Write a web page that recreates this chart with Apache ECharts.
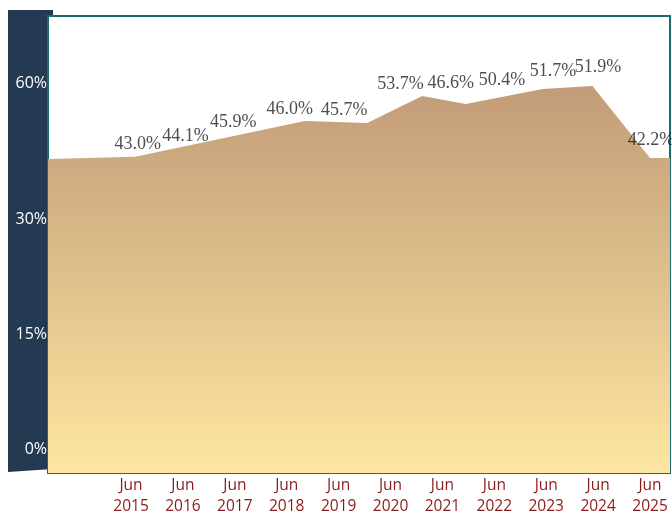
<!DOCTYPE html>
<html>
<head>
<meta charset="utf-8">
<script src="https://cdn.jsdelivr.net/npm/echarts@6/dist/echarts.min.js"></script>
<style>
  html, body { margin: 0; padding: 0; background: #ffffff; }
  #chart { width: 672px; height: 512px; }
</style>
</head>
<body>
<div id="chart"></div>
<script>
// x in decimal years (Jun = .5), y in axis units
const years = [2015, 2016, 2017, 2018, 2019, 2020, 2021, 2022, 2023, 2024, 2025];
const yTickValues = [0, 15, 30, 47.6];
const yTickLabels = ['0%', '15%', '30%', '60%'];

// outline of the filled area
const areaX = [2013.9, 2015.58, 2018.85, 2020.05, 2021.11, 2021.95, 2023.43, 2024.39, 2025.5, 2025.885];
const areaY = [37.8, 38.1, 42.75, 42.5, 46.0, 44.95, 46.9, 47.3, 37.95, 37.95];

// value labels as printed, and where they sit
const labelText = ['43.0%', '44.1%', '45.9%', '46.0%', '45.7%', '53.7%', '46.6%', '50.4%', '51.7%', '51.9%', '42.2%'];
const labelX = [2015.63, 2016.55, 2017.47, 2018.56, 2019.61, 2020.69, 2021.66, 2022.65, 2023.63, 2024.5, 2025.52];
const labelY = [39.7, 40.8, 42.55, 44.3, 44.1, 47.5, 47.7, 48.0, 49.25, 49.7, 40.2];

const chart = echarts.init(document.getElementById('chart'), null, { renderer: 'canvas' });

const option = {
  backgroundColor: '#ffffff',
  animation: false,
  graphic: [{
    type: 'polygon',
    z: -10,
    shape: { points: [[8, 10], [53, 10], [53, 469], [8, 472]] },
    style: { fill: '#243a52' }
  }],
  grid: {
    left: 48, right: 2, top: 16, bottom: 39,
    outerBoundsMode: 'none',
    containLabel: false,
    show: true,
    backgroundColor: '#ffffff',
    borderColor: '#1c6c6e',
    borderWidth: 2
  },
  xAxis: {
    type: 'value',
    min: 2013.9,
    max: 2025.885,
    axisLine: { show: false },
    axisTick: { show: false },
    splitLine: { show: false },
    axisLabel: {
      customValues: years.map(y => y + 0.5),
      formatter: v => 'Jun\n' + Math.floor(v),
      color: '#8b1a1a',
      fontFamily: 'Open Sans',
      fontSize: 15.5,
      lineHeight: 21,
      margin: 2
    }
  },
  yAxis: {
    type: 'value',
    min: -3,
    max: 56.4,
    axisLine: { show: false },
    axisTick: { show: false },
    splitLine: { show: false },
    axisLabel: {
      customValues: yTickValues,
      formatter: (v) => yTickLabels[yTickValues.indexOf(v)],
      color: '#ffffff',
      fontFamily: 'Open Sans',
      fontSize: 16,
      margin: 1
    }
  },
  series: [{
    type: 'line',
    data: areaX.map((x, i) => [x, areaY[i]]),
    symbol: 'none',
    lineStyle: { width: 0 },
    areaStyle: {
      origin: 'start',
      opacity: 1,
      color: new echarts.graphic.LinearGradient(0, 0, 0, 1, [
        { offset: 0, color: '#c29b78' },
        { offset: 1, color: '#fde6a0' }
      ])
    },
    z: 2
  }, {
    type: 'scatter',
    data: labelX.map((x, i) => [x, labelY[i]]),
    symbolSize: 1,
    itemStyle: { color: 'rgba(0,0,0,0)' },
    label: {
      show: true,
      position: 'inside',
      formatter: p => labelText[p.dataIndex],
      fontFamily: 'Liberation Serif',
      fontSize: 18,
      color: '#222222'
    },
    z: 5
  }]
};

chart.setOption(option);
</script>
</body>
</html>
